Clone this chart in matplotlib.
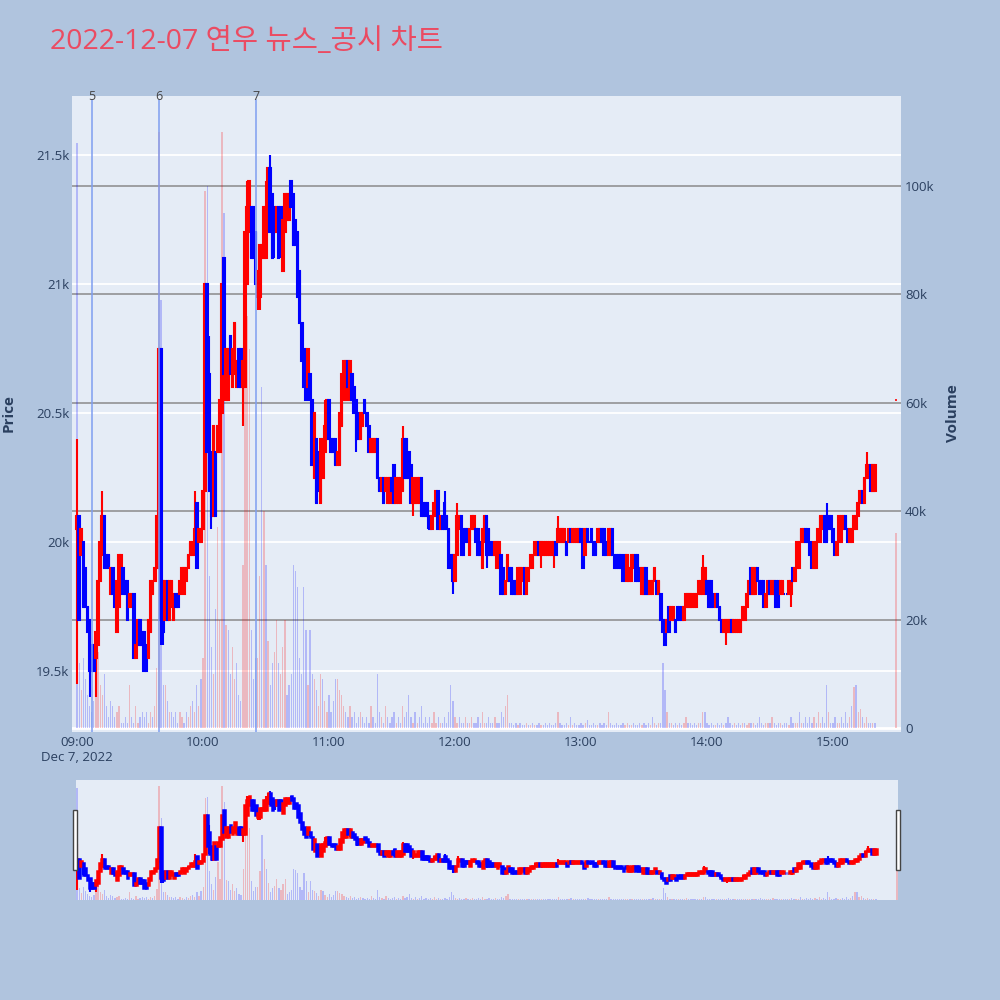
import numpy as np
import matplotlib.pyplot as plt
import matplotlib.transforms as mtransforms
from matplotlib.patches import Rectangle

plt.rcParams['font.family'] = ['Open Sans', 'Noto Sans CJK KR', 'DejaVu Sans']

#%%
# data (1-minute candles, minute 0 = 09:00)

title = '2022-12-07 연우 뉴스_공시 차트'
prev_close = 20400      # previous session close, colour of first volume bar

opens = [
    20050, 20100, 19950, 20000, 19900, 19750, 19700, 19600, 19600, 19550,
    19600, 19850, 19950, 20100, 19950, 19950, 19800, 19900, 19800, 19650,
    19750, 19900, 19900, 19850, 19850, 19750, 19750, 19800, 19550, 19600,
    19700, 19650, 19650, 19600, 19550, 19650, 19800, 19850, 19900, 20050,
    20750, 19850, 19700, 19850, 19700, 19750, 19700, 19800, 19800, 19800,
    19850, 19800, 19850, 19900, 19950, 19950, 19950, 20150, 20000, 20000,
    20050, 20200, 21000, 20650, 20350, 20100, 20350, 20350, 20350, 20500,
    21100, 20550, 20550, 20800, 20600, 20650, 20600, 20750, 20750, 20600,
    20600, 21000, 21200, 21300, 21300, 21200, 20950, 20950, 21100, 21100,
    21100, 21250, 21450, 21350, 21300, 21200, 21300, 21300, 21050, 21200,
    21250, 21250, 21400, 21350, 21250, 21200, 21050, 20850, 20750, 20700,
    20600, 20650, 20550, 20250, 20400, 20350, 20150, 20250, 20350, 20400,
    20550, 20400, 20400, 20400, 20300, 20300, 20450, 20550, 20550, 20700,
    20550, 20650, 20600, 20550, 20500, 20400, 20450, 20550, 20500, 20450,
    20350, 20350, 20350, 20400, 20250, 20200, 20250, 20200, 20150, 20150,
    20250, 20300, 20150, 20150, 20150, 20200, 20400, 20400, 20350, 20300,
    20150, 20150, 20150, 20150, 20250, 20150, 20150, 20150, 20100, 20050,
    20100, 20100, 20200, 20050, 20100, 20150, 20100, 20050, 19950, 19950,
    19850, 19950, 20050, 20100, 20050, 20050, 20050, 19950, 20050, 20050,
    20050, 20050, 20000, 19900, 20000, 20100, 20050, 20000, 20000, 19950,
    19900, 19950, 19950, 19900, 19800, 19850, 19900, 19900, 19850, 19850,
    19800, 19800, 19850, 19900, 19800, 19850, 19900, 19900, 19950, 19950,
    20000, 19950, 19950, 19950, 19950, 19950, 19950, 19950, 20000, 20000,
    20000, 20000, 20000, 20000, 20000, 20050, 20000, 20000, 20000, 20000,
    20050, 20000, 19950, 20050, 20000, 20050, 20000, 20000, 20000, 20000,
    20050, 20050, 20000, 19950, 19950, 20050, 19950, 19950, 19950, 19950,
    19900, 19950, 19850, 19850, 19850, 19900, 19950, 19950, 19900, 19800,
    19800, 19900, 19850, 19800, 19800, 19850, 19850, 19800, 19800, 19700,
    19700, 19650, 19750, 19700, 19700, 19700, 19750, 19750, 19750, 19700,
    19750, 19750, 19750, 19750, 19750, 19750, 19800, 19800, 19800, 19850,
    19850, 19850, 19850, 19800, 19750, 19800, 19750, 19700, 19650, 19650,
    19650, 19650, 19700, 19650, 19650, 19650, 19650, 19700, 19700, 19750,
    19800, 19900, 19800, 19800, 19900, 19850, 19850, 19850, 19750, 19800,
    19850, 19800, 19800, 19850, 19850, 19800, 19800, 19800, 19800, 19800,
    19800, 19900, 19850, 19900, 19900, 20000, 20000, 20050, 20050, 20000,
    19950, 19900, 19900, 20000, 20000, 20050, 20100, 20100, 20100, 20100,
    20050, 20000, 19950, 20000, 20000, 20050, 20100, 20050, 20000, 20000,
    20050, 20050, 20100, 20150, 20200, 20150, 20250, 20250, 20300, 20200,
    20200,
]

closes = [
    20100, 19700, 20050, 19750, 19750, 19650, 19500, 19500, 19500, 19650,
    19850, 20000, 20100, 19900, 19900, 19900, 19900, 19800, 19750, 19850,
    19950, 19950, 19800, 19800, 19700, 19800, 19800, 19550, 19600, 19700,
    19600, 19600, 19500, 19500, 19700, 19850, 19850, 19900, 20100, 20750,
    19700, 19650, 19850, 19700, 19850, 19850, 19800, 19750, 19750, 19850,
    19900, 19900, 19900, 19950, 20000, 20000, 20050, 19900, 20050, 20050,
    20200, 21000, 20350, 20200, 20100, 20450, 20100, 20450, 20550, 21000,
    20650, 20750, 20750, 20650, 20750, 20850, 20700, 20600, 20600, 20700,
    21200, 21300, 21400, 21100, 21100, 21000, 21050, 21150, 21150, 21300,
    21300, 21450, 21200, 21100, 21200, 21300, 21100, 21150, 21250, 21350,
    21350, 21350, 21300, 21150, 21150, 20950, 20850, 20700, 20600, 20550,
    20750, 20550, 20300, 20500, 20150, 20200, 20400, 20400, 20450, 20550,
    20400, 20350, 20350, 20300, 20350, 20500, 20650, 20700, 20700, 20600,
    20700, 20550, 20500, 20400, 20400, 20500, 20500, 20500, 20450, 20350,
    20400, 20400, 20400, 20250, 20200, 20250, 20150, 20250, 20250, 20250,
    20200, 20150, 20250, 20250, 20250, 20400, 20250, 20250, 20250, 20150,
    20250, 20200, 20250, 20250, 20100, 20100, 20100, 20100, 20050, 20100,
    20150, 20200, 20050, 20100, 20050, 20050, 20050, 19900, 19900, 19850,
    19950, 20100, 20100, 19950, 19950, 20000, 20000, 20050, 20100, 20100,
    20000, 19950, 19950, 20050, 20100, 19950, 19950, 19950, 19950, 20000,
    20000, 20000, 19800, 19800, 19850, 19950, 19850, 19800, 19800, 19800,
    19900, 19900, 19900, 19800, 19900, 19900, 19950, 19950, 20000, 20000,
    19950, 20000, 20000, 20000, 20000, 20000, 20000, 20000, 19950, 20050,
    20050, 20050, 20050, 19950, 20050, 20000, 20050, 20050, 20050, 20050,
    20000, 19900, 20050, 20000, 20000, 20000, 19950, 19950, 20050, 20050,
    20000, 19950, 19950, 20050, 20050, 19950, 19900, 19900, 19900, 19900,
    19850, 19900, 19950, 19900, 19950, 19950, 19850, 19850, 19850, 19900,
    19900, 19800, 19800, 19850, 19850, 19900, 19800, 19850, 19700, 19650,
    19600, 19700, 19650, 19750, 19750, 19650, 19700, 19700, 19700, 19750,
    19800, 19800, 19800, 19800, 19800, 19800, 19850, 19850, 19900, 19900,
    19800, 19750, 19750, 19750, 19800, 19750, 19700, 19650, 19700, 19700,
    19700, 19700, 19650, 19700, 19700, 19700, 19700, 19750, 19750, 19800,
    19850, 19800, 19900, 19900, 19850, 19800, 19800, 19750, 19800, 19850,
    19800, 19850, 19850, 19750, 19750, 19850, 19850, 19800, 19800, 19850,
    19850, 19850, 19900, 20000, 20000, 20050, 20050, 20000, 20000, 19950,
    19900, 20000, 20000, 20050, 20100, 20100, 20000, 20000, 20050, 20050,
    20000, 19950, 20000, 20100, 20100, 20100, 20050, 20000, 20050, 20050,
    20100, 20100, 20150, 20200, 20150, 20250, 20300, 20300, 20200, 20300,
    20300,
]

# wick ends that stick out past the bodies
wick_high = {0: 20400, 12: 20200, 56: 20200, 63: 20800, 81: 21400, 90: 21400,
             92: 21500, 118: 20550, 155: 20450, 175: 20200, 181: 20150,
             229: 20100, 298: 19950, 321: 19900, 357: 20150, 376: 20350}
wick_low = {0: 19450, 6: 19400, 9: 19400, 40: 19600, 41: 19600, 64: 20050,
            79: 20450, 86: 20900, 87: 20900, 94: 21100, 97: 21100, 133: 20350,
            160: 20100, 167: 20050, 179: 19800, 195: 19900, 221: 19900,
            227: 19900, 309: 19600, 340: 19750}

# volume in thousands of shares
volume_k = [
    108, 12, 7, 13, 9, 6, 4, 3, 5, 15,
    14, 8, 6, 10, 4, 2, 5, 4, 2, 3,
    4, 1, 1, 2, 1, 8, 2, 1, 4, 1,
    2, 3, 2, 3, 1, 3, 2, 4, 11, 110,
    79, 8, 8, 5, 3, 3, 2, 3, 1, 3,
    2, 1, 3, 2, 4, 5, 3, 8, 4, 9,
    13, 99, 100, 28, 15, 10, 22, 37, 20, 110,
    95, 19, 18, 10, 15, 9, 12, 6, 5, 30,
    80, 76, 70, 18, 9, 13, 13, 28, 63, 40,
    30, 16, 8, 12, 14, 20, 12, 10, 15, 20,
    6, 8, 10, 30, 29, 26, 13, 10, 26, 18,
    8, 18, 10, 9, 7, 4, 10, 9, 5, 3,
    6, 3, 5, 9, 9, 7, 6, 4, 3, 2,
    4, 2, 3, 1, 2, 3, 2, 1, 2, 1,
    4, 2, 1, 10, 3, 2, 1, 4, 2, 1,
    2, 3, 1, 2, 1, 4, 2, 3, 6, 2,
    1, 3, 1, 2, 4, 1, 2, 1, 2, 1,
    3, 1, 2, 1, 1, 2, 1, 3, 8, 5,
    2, 1, 2, 1, 1, 2, 1, 1, 2, 1,
    1, 2, 1, 3, 1, 1, 2, 1, 1, 2,
    1, 1, 3, 2, 4, 6, 1, 1, 0.5, 1,
    0.5, 1, 0.5, 0.5, 1, 0.5, 0.5, 1, 0.5, 0.5,
    1, 0.5, 0.5, 1, 0.5, 1, 0.5, 0.5, 1, 3,
    1, 0.5, 0.5, 1, 0.5, 2, 0.5, 1, 0.5, 0.5,
    1, 0.5, 1, 1.5, 0.5, 0.5, 1, 0.5, 0.5, 1,
    0.5, 1, 0.5, 3, 1, 0.5, 0.5, 1, 0.5, 0.5,
    1, 0.5, 1, 0.5, 0.5, 1, 0.5, 0.5, 1, 0.5,
    1, 0.5, 1, 0.5, 2, 1, 0.5, 1, 1, 12,
    7, 3, 1, 1, 0.5, 1, 0.5, 1, 0.5, 1,
    2, 1, 1, 0.5, 1, 0.5, 1, 1, 3, 3,
    1, 0.5, 1, 0.5, 0.5, 1, 0.5, 1, 0.5, 1,
    2, 1, 0.5, 1, 0.5, 1, 0.5, 1, 1, 0.5,
    1, 1, 1, 0.5, 1, 2, 1, 0.5, 1, 1,
    1, 2, 1, 0.5, 1, 1, 0.5, 1, 1, 0.5,
    2, 1, 1, 1, 3, 1, 1, 2, 1, 2,
    1, 2, 1, 3, 1, 2, 1, 8, 3, 1,
    1, 2, 1, 1, 2, 1, 3, 1, 2, 4,
    7.5, 8, 3, 3.5, 2, 1, 2, 1, 1, 1,
    1,
]

# closing auction at 15:30
auction_min = 390
auction_price = 20550
auction_vol_k = 36

# news / disclosure markers
news_min = [7, 39, 85]
news_lbl = ['5', '6', '7']

x_ticks = [0, 60, 120, 180, 240, 300, 360]
x_lbls = ['09:00\nDec 7, 2022', '10:00', '11:00', '12:00', '13:00', '14:00', '15:00']
p_ticks = [19500, 20000, 20500, 21000, 21500]
p_lbls = ['19.5k', '20k', '20.5k', '21k', '21.5k']
v_ticks = [0, 20000, 40000, 60000, 80000, 100000]
v_lbls = ['0', '20k', '40k', '60k', '80k', '100k']

#%%
opens = np.array(opens, dtype=float)
closes = np.array(closes, dtype=float)
n = len(closes)
mins = np.arange(n)
highs = np.maximum(opens, closes)
lows = np.minimum(opens, closes)
for k, v in wick_high.items():
    highs[k] = max(highs[k], v)
for k, v in wick_low.items():
    lows[k] = min(lows[k], v)
vols = np.array(volume_k) * 1000

up = closes > opens
c_col = np.where(up, '#FF0000', '#0000FF')
prev = np.concatenate([[prev_close], closes[:-1]])
v_up = closes > prev
v_col = [(1, 0, 0, 0.22) if u else (0, 0, 1, 0.22) for u in v_up]
v_mins = np.append(mins, auction_min)
v_vals = np.append(vols, auction_vol_k * 1000)
v_col.append((1, 0, 0, 0.22))

BG = '#B0C4DE'
PLOT_BG = '#E5ECF6'
TXT = '#2a3f5f'

fig = plt.figure(figsize=(10, 10), dpi=100, facecolor=BG)


def draw_candles(axp, axv, lw_wick, body_w, body_lw, bar_w):
    axv.bar(v_mins, v_vals, width=bar_w, color=v_col, linewidth=0, zorder=2)
    axp.vlines(mins, lows, highs, colors=c_col, linewidth=lw_wick, zorder=3)
    axp.bar(mins, np.abs(closes - opens), bottom=np.minimum(opens, closes),
            width=body_w, color=c_col, edgecolor=c_col, linewidth=body_lw, zorder=4)
    axp.hlines(auction_price, auction_min - 0.3, auction_min + 0.3,
               color='#FF0000', linewidth=1.2, zorder=4)


# main panel: volume axis underneath (right ticks), price axis on top (left ticks)
ax_v = fig.add_axes([0.072, 0.268, 0.829, 0.636])
ax_v.set_facecolor(PLOT_BG)
ax_p = ax_v.twinx()
ax_p.yaxis.set_ticks_position('left')
ax_v.yaxis.set_ticks_position('right')

ax_v.set_xlim(-2.4, 392.4)
ax_v.set_ylim(-740, 116600)
ax_p.set_ylim(19264, 21729)

# grids (all below the traces)
tr_p = mtransforms.blended_transform_factory(ax_v.transAxes, ax_p.transData)
for p in p_ticks:
    ax_v.plot([0, 1], [p, p], transform=tr_p, color='white', linewidth=1.3, zorder=0.5)
for v in v_ticks[1:]:
    ax_v.axhline(v, color='#8a8a8a', linewidth=1.1, zorder=0.6)
ax_v.axhline(0, color='white', linewidth=2, zorder=0.7)

draw_candles(ax_p, ax_v, 1.5, 0.75, 1.5, 0.6)

for m, lbl in zip(news_min, news_lbl):
    ax_p.axvline(m, ymin=0, ymax=0.994, color='#7F9EF0', linewidth=1.1, zorder=6)
    ax_p.text(m, 1.0, lbl, transform=mtransforms.blended_transform_factory(ax_p.transData, ax_p.transAxes),
              ha='center', va='center', fontsize=9, color='#444444', zorder=7)

for a in (ax_v, ax_p):
    for s in a.spines.values():
        s.set_visible(False)

ax_p.set_yticks(p_ticks)
ax_p.set_yticklabels(p_lbls)
ax_v.set_yticks(v_ticks)
ax_v.set_yticklabels(v_lbls)
ax_v.set_xticks(x_ticks)
ax_v.set_xticklabels(x_lbls)
ax_p.tick_params(axis='y', length=0, pad=2, labelsize=9.5, labelcolor=TXT)
ax_v.tick_params(axis='y', length=0, pad=3, labelsize=9.5, labelcolor=TXT)
ax_v.tick_params(axis='x', length=0, pad=3, labelsize=9.5, labelcolor=TXT)

fig.text(0.05, 0.958, title, fontsize=20.5, color='#EB4B62', ha='left', va='center')
fig.text(0.009, 0.587, 'Price', rotation=90, fontsize=11, fontweight='bold', color=TXT, ha='center', va='center')
fig.text(0.953, 0.587, 'Volume', rotation=90, fontsize=11, fontweight='bold', color=TXT, ha='center', va='center')

# range slider
sl_v = fig.add_axes([0.076, 0.100, 0.822, 0.120])
sl_v.set_facecolor(PLOT_BG)
sl_p = sl_v.twinx()
sl_v.set_xlim(-0.5, 390.5)
sl_v.set_ylim(0, 116000)
sl_p.set_ylim(19244, 21721)
draw_candles(sl_p, sl_v, 1.5, 0.8, 1.8, 0.6)
for a in (sl_v, sl_p):
    a.set_xticks([])
    a.set_yticks([])
    for s in a.spines.values():
        s.set_visible(False)

for xh in (0.0733, 0.8963):
    fig.add_artist(Rectangle((xh, 0.130), 0.004, 0.060, transform=fig.transFigure,
                             facecolor='white', edgecolor='#444444', linewidth=1))

fig.savefig('out.png', dpi=100, facecolor=BG)
